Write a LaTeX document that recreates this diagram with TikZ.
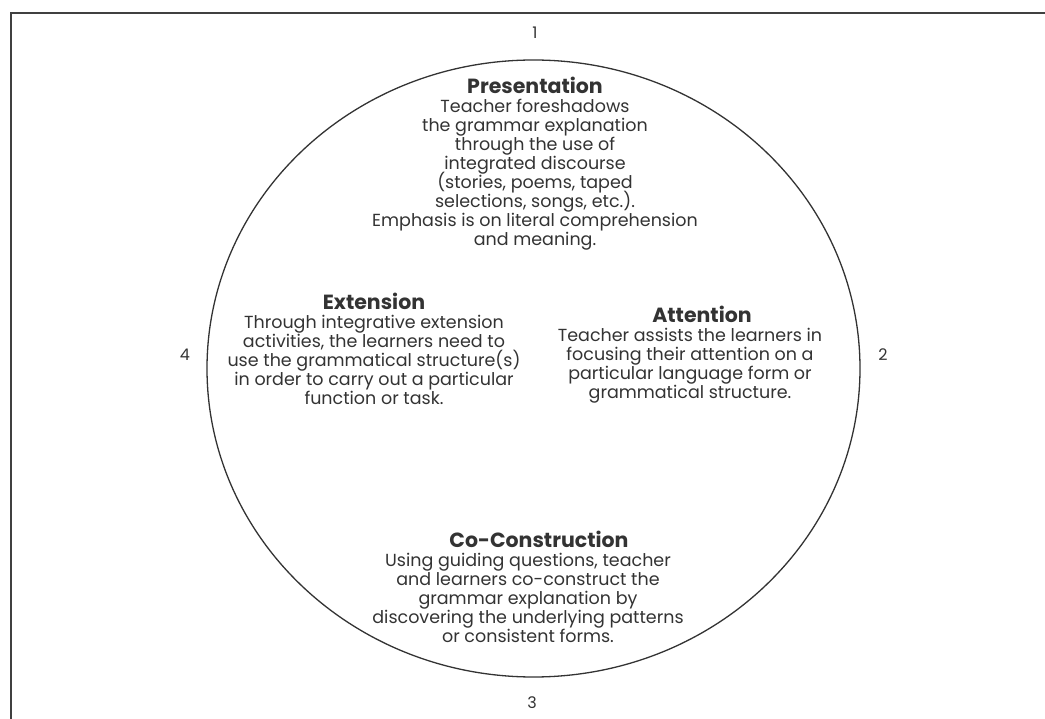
\documentclass[tikz,border=0pt]{standalone}
\usepackage{fontspec}
\setmainfont{Poppins}
\definecolor{ink}{HTML}{333333}
\newcommand{\ttlfont}{\fontsize{20.5}{19}\selectfont\bfseries}
\newcommand{\bodyfont}{\fontsize{17.5}{19}\selectfont\lineskiplimit=-50pt\lineskip=0pt}
\begin{document}
\begin{tikzpicture}[x=1pt,y=-1pt,
  txt/.style={align=center,text=ink,inner sep=0pt,font=\bodyfont},
  num/.style={text=ink,inner sep=0pt,font=\fontsize{16}{18}\selectfont}]
\useasboundingbox (0,0) rectangle (1045,719);
\draw[line width=1.6pt,black!75] (1045,13) -- (11,13) -- (11,719);
\draw[line width=1.3pt,black!80] (533.5,368.5) ellipse [x radius=326.5, y radius=308.5];
\node[txt] (pres) at (535,164) {{\ttlfont Presentation}\\Teacher foreshadows\\the grammar explanation\\through the use of\\integrated discourse\\(stories, poems, taped\\selections, songs, etc.).\\Emphasis is on literal comprehension\\and meaning.};
\node[txt] (ext) at (374,349) {{\ttlfont Extension}\\Through integrative extension\\activities, the learners need to\\use the grammatical structure(s)\\in order to carry out a particular\\function or task.};
\node[txt] (att) at (690,355) {{\ttlfont\hspace*{24pt}Attention}\\Teacher assists the learners in\\focusing their attention on a\\particular language form or\\grammatical structure.};
\node[txt] (cocon) at (528,587) {{\ttlfont\hspace*{22pt}Co-Construction}\\Using guiding questions, teacher\\and learners co-construct the\\grammar explanation by\\discovering the underlying patterns\\or consistent forms.};
\node[num] (n1) at (535,33) {1};
\node[num] (n2) at (883,355) {2};
\node[num] (n3) at (532,703) {3};
\node[num] (n4) at (185,355) {4};
\end{tikzpicture}
\end{document}
